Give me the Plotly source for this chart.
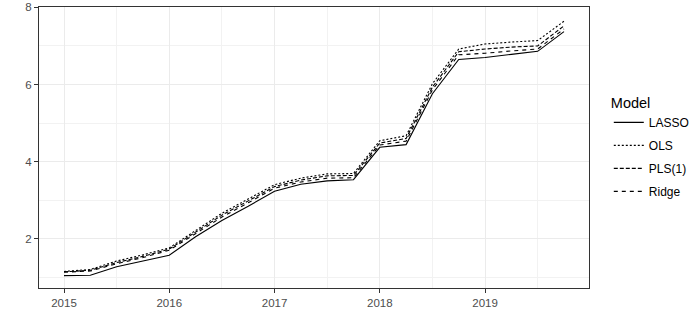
import plotly.graph_objects as go

# quarterly forecasts, 2015 Q1 .. 2019 Q4
quarters = [2015 + 0.25 * i for i in range(20)]

lasso = [1.04, 1.05, 1.27, 1.41, 1.57, 2.05, 2.47, 2.84, 3.23, 3.41,
         3.50, 3.53, 4.37, 4.44, 5.76, 6.65, 6.70, 6.78, 6.86, 7.37]
ols = [1.15, 1.20, 1.42, 1.58, 1.76, 2.21, 2.66, 3.03, 3.40, 3.57,
       3.68, 3.69, 4.54, 4.67, 6.02, 6.92, 7.05, 7.10, 7.14, 7.64]
pls1 = [1.14, 1.18, 1.38, 1.54, 1.73, 2.17, 2.61, 2.98, 3.35, 3.52,
        3.63, 3.64, 4.48, 4.60, 5.93, 6.85, 6.92, 6.97, 7.00, 7.52]
ridge = [1.13, 1.16, 1.35, 1.51, 1.70, 2.13, 2.56, 2.93, 3.31, 3.47,
         3.57, 3.58, 4.43, 4.53, 5.86, 6.77, 6.81, 6.87, 6.92, 7.44]

year_ticks = [2015, 2016, 2017, 2018, 2019]
y_ticks = [2, 4, 6, 8]

series = [
    ("LASSO", lasso, "solid"),
    ("OLS", ols, "2px,2px"),
    ("PLS(1)", pls1, "4px,2px"),
    ("Ridge", ridge, "4px,4px"),
]

fig = go.Figure()
for name, vals, dash in series:
    fig.add_trace(go.Scatter(
        x=quarters, y=vals, mode="lines", name=name, legendgroup=name,
        line=dict(color="black", width=1.1, dash=dash),
    ))

axis_common = dict(
    showline=True, mirror=True, linecolor="#333333", linewidth=1,
    ticks="outside", ticklen=4, tickcolor="#333333",
    gridcolor="#EBEBEB", gridwidth=1, zeroline=False, automargin=False,
    tickfont=dict(family="Liberation Sans, Arial", size=11.5, color="#4D4D4D"),
    minor=dict(showgrid=True, gridcolor="#F2F2F2", gridwidth=0.6),
)

fig.update_xaxes(range=[2014.7625, 2019.9875], tickvals=year_ticks,
                 minor_dtick=0.5, minor_tick0=2015, **axis_common)
fig.update_yaxes(range=[0.72, 8.01], tickvals=y_ticks,
                 minor_dtick=2, minor_tick0=1, **axis_common)

fig.update_layout(
    width=696, height=334,
    margin=dict(l=39, r=107, t=7, b=46, autoexpand=False),
    plot_bgcolor="white", paper_bgcolor="white",
    font=dict(family="Liberation Sans, Arial", color="black"),
    legend=dict(
        title=dict(text="Model", font=dict(size=14.5)),
        font=dict(size=12),
        x=1.036, xanchor="left", y=0.5, yanchor="middle",
        tracegroupgap=4,
    ),
)

# drop the default 8px body margin so the figure sits flush in the window
fig.write_html(
    "out.html",
    config={"displayModeBar": False},
    post_script="document.body.style.margin = '0';",
)
